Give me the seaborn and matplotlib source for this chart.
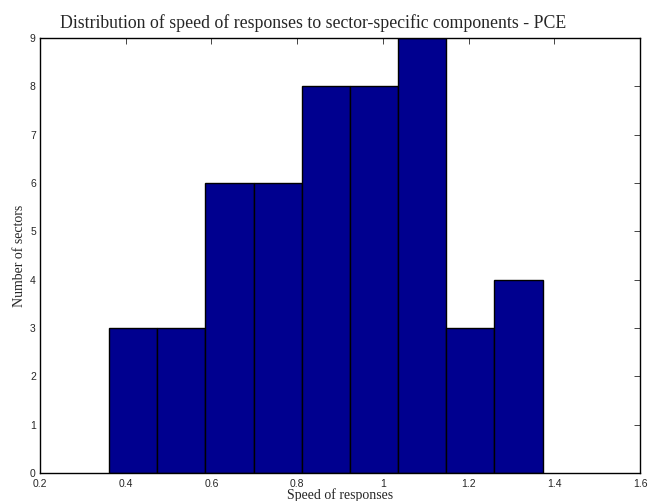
import numpy as np
import pandas as pd
import matplotlib
matplotlib.use("Agg")
import matplotlib.pyplot as plt
import seaborn as sns

# histogram: 9 equal bins
bin_start = 0.361
bin_width = 0.1124
counts = [3, 3, 6, 6, 8, 8, 9, 3, 4]
x_ticks = [0.2, 0.4, 0.6, 0.8, 1.0, 1.2, 1.4, 1.6]
x_tick_labels = ["0.2", "0.4", "0.6", "0.8", "1", "1.2", "1.4", "1.6"]
y_ticks = [0, 1, 2, 3, 4, 5, 6, 7, 8, 9]

edges = list(bin_start + bin_width * np.arange(len(counts) + 1))
df = pd.DataFrame({
    "speed": [(a + b) / 2 for a, b in zip(edges[:-1], edges[1:])],
    "n": counts,
})

sns.set_style("white")
fig = plt.figure(figsize=(6.51, 5.01), dpi=100)
ax = fig.add_axes([40 / 651, 1 - 473 / 501, 600 / 651, 435 / 501])

sns.histplot(data=df, x="speed", weights="n", bins=edges, ax=ax,
             color="#00008f", alpha=1, edgecolor="black", linewidth=1)

ax.set_xlim(0.2, 1.6)
ax.set_ylim(0, 9)
ax.set_xticks(x_ticks)
ax.set_xticklabels(x_tick_labels)
ax.set_yticks(y_ticks)
ax.tick_params(direction="in", length=4, width=0.6, labelsize=7.5,
               top=True, right=True)
ax.tick_params(axis="x", pad=4)
ax.tick_params(axis="y", pad=3)
for lab in ax.get_xticklabels() + ax.get_yticklabels():
    lab.set_family("Liberation Sans")
for s in ax.spines.values():
    s.set_color("black")
    s.set_linewidth(1)

serif = "Liberation Serif"
fig.text(313 / 651, 1 - 28 / 501,
         "Distribution of speed of responses to sector-specific components - PCE",
         family=serif, fontsize=12.8, ha="center", va="baseline")
ax.set_xlabel("Speed of responses", family=serif, fontsize=10, labelpad=0)
ax.set_ylabel("Number of sectors", family=serif, fontsize=10, labelpad=3)

fig.savefig("out.png", dpi=100)
